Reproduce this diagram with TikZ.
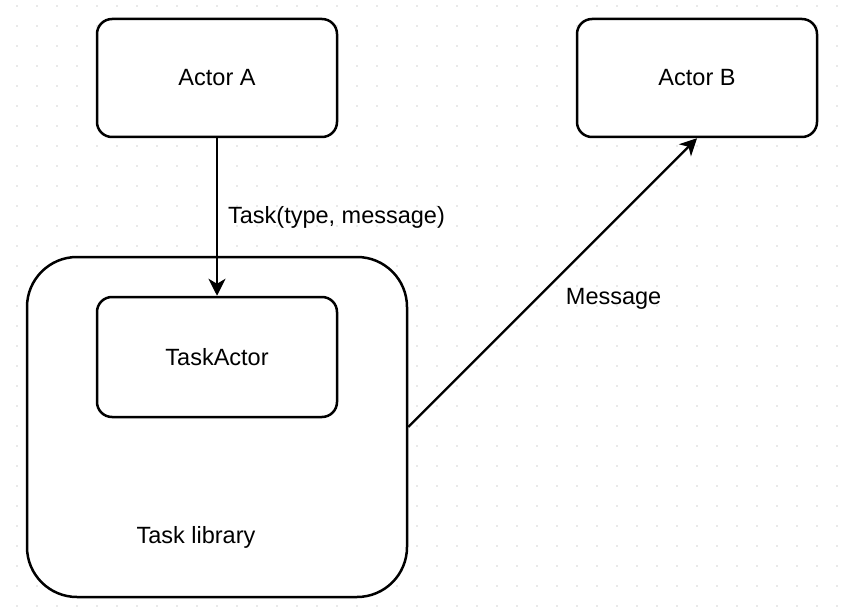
\documentclass[tikz,border=0pt]{standalone}
\usepackage{fontspec}
\setmainfont{Liberation Sans}
\usetikzlibrary{backgrounds}
\usetikzlibrary{arrows.meta}

\tikzset{
  actorbox/.style={draw, rectangle, rounded corners=15pt, fill=white, line width=2.5pt,
    minimum width=240pt, minimum height=118pt, font=\fontsize{23.5}{28}\selectfont},
  msgarrow/.style={line width=2.2pt, -{Stealth[length=17pt,width=17pt,inset=5pt]}},
  lbl/.style={font=\fontsize{23.5}{28}\selectfont, inner sep=0pt}
}

\begin{document}
\begin{tikzpicture}[x=1pt, y=-1pt, color=black]
\useasboundingbox (0,0) rectangle (842,612);
% grid dots
\foreach \i in {0,...,41}
  \foreach \j in {0,...,30}
    \fill[gray!35] (17+20*\i, 6+20*\j) circle (0.9pt);

\node[actorbox] (a) at (217,78) {Actor A};
\node[actorbox] (b) at (697,78) {Actor B};
\node[actorbox, rounded corners=50pt, minimum width=380pt, minimum height=340pt] (lib) at (217,427) {};
\node[lbl] (libname) at (196,537) {Task library};
\node[actorbox, minimum height=120pt] (t) at (217,357) {TaskActor};

% arrows
\draw[msgarrow] (a) -- (t) node[lbl, midway, anchor=west, xshift=10pt] {Task(type, message)};
\draw[msgarrow] (lib.east) -- (b.south) node[lbl, midway, shift={(61,16)}] {Message};

\end{tikzpicture}
\end{document}
